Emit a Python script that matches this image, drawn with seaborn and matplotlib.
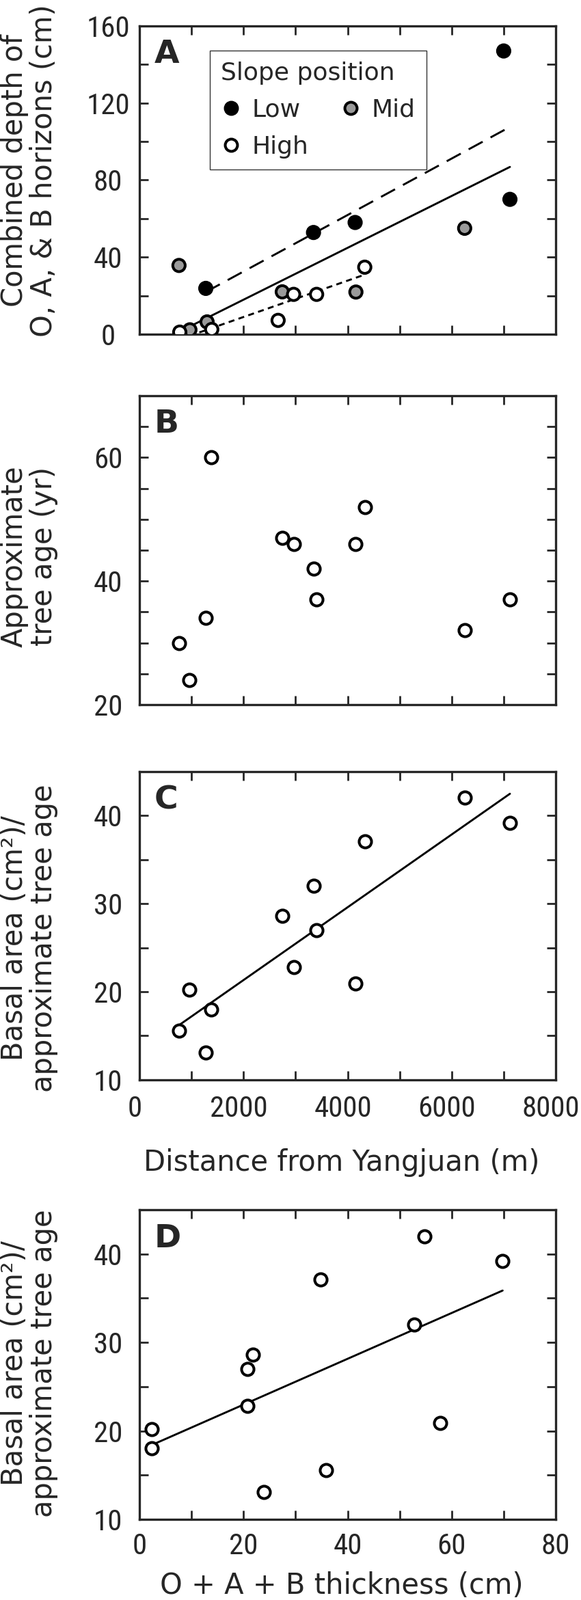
"""
Soil depth, tree age and growth along the Yangjuan gradient (4 stacked panels)
"""
import pandas as pd
import matplotlib
matplotlib.use("Agg")
import matplotlib.pyplot as plt
import seaborn as sns
from matplotlib import font_manager
from matplotlib.font_manager import FontProperties
from matplotlib.ticker import MultipleLocator
from matplotlib.transforms import ScaledTranslation
from matplotlib.lines import Line2D

# Panel A: combined O + A + B depth (cm) by slope position
low_dist = [1275, 3345, 4145, 7000, 7120]
low_depth = [23.8, 52.8, 58.0, 147.0, 70.0]
mid_dist = [760, 970, 1300, 2745, 4160, 6250]
mid_depth = [35.7, 2.3, 6.4, 22.0, 21.9, 55.0]
high_dist = [775, 1390, 2665, 2963, 3405, 4330]
high_depth = [1.1, 2.5, 7.2, 20.7, 20.7, 34.8]

# Panels B-D: one value per site
site_dist = [760, 960, 1275, 1375, 2740, 2963, 3345, 3405, 4145, 4330, 6250, 7120]
tree_age = [30, 24, 34, 60, 47, 46, 42, 37, 46, 52, 32, 37]
growth = [15.6, 20.2, 13.1, 18.0, 28.6, 22.8, 32.0, 27.0, 20.9, 37.1, 42.0, 39.2]
thickness = [35.8, 2.4, 23.9, 2.4, 21.8, 20.7, 52.8, 20.7, 57.8, 34.8, 54.8, 69.8]

slope_order = ["Low", "Mid", "High"]
slope_colors = {"Low": "black", "Mid": "#9a9a9a", "High": "white"}

sns.set_style("ticks")
plt.rcParams["font.family"] = ["DejaVu Sans"]


def pick_tick_font():
    """Find a condensed face for the tick numbers, like the original"""
    fonts = font_manager.fontManager.ttflist
    narrow = ("condensed", "semi-condensed", "extra-condensed")
    for name in ["Liberation Sans Narrow", "Roboto Condensed", "Open Sans Condensed"]:
        if any(f.name == name for f in fonts):
            return FontProperties(family=name), 31
    for name in ["DejaVu Sans", "Noto Sans", "Open Sans", "Roboto"]:
        if any(f.name == name and str(f.stretch) in narrow for f in fonts):
            return FontProperties(family=name, stretch="condensed"), 30
    return FontProperties(family="DejaVu Sans"), 26


TICK_FP, TICK_SIZE = pick_tick_font()
TICK_FP.set_size(TICK_SIZE)
LABEL_SIZE = 30
MARKER_S = 170
EDGE_W = 2.9


def style_axes(ax, xlim, ylim, xmaj, xmin, ymaj, ymin, xlabels=True, xpad=14):
    ax.set_xlim(*xlim)
    ax.set_ylim(*ylim)
    ax.xaxis.set_major_locator(MultipleLocator(xmaj))
    ax.xaxis.set_minor_locator(MultipleLocator(xmin))
    ax.yaxis.set_major_locator(MultipleLocator(ymaj))
    ax.yaxis.set_minor_locator(MultipleLocator(ymin))
    for side in ["top", "right", "bottom", "left"]:
        ax.spines[side].set_visible(True)
        ax.spines[side].set_linewidth(2.4)
    ax.tick_params(which="both", direction="in", top=True, right=True,
                   length=9.5, width=2.0)
    ax.tick_params(axis="y", pad=33)
    ax.tick_params(axis="x", pad=xpad, labelbottom=xlabels)
    for lab in ax.get_yticklabels() + ax.get_xticklabels():
        lab.set_fontproperties(TICK_FP)
    for lab in ax.get_yticklabels():
        lab.set_horizontalalignment("center")


def set_ylabel(ax, text, ycenter):
    ax.set_ylabel(text, fontsize=LABEL_SIZE, linespacing=1.05)
    ax.yaxis.set_label_coords(-0.195, ycenter)


def panel_letter(ax, letter):
    ax.text(0.036, 0.957, letter, transform=ax.transAxes, ha="left", va="top",
            fontsize=34, fontweight="bold")


def open_scatter(ax, x, y):
    sns.scatterplot(x=x, y=y, ax=ax, color="white", edgecolor="black",
                    linewidth=EDGE_W, s=MARKER_S, zorder=3, legend=False)


def fit_line(ax, x, y, ls="-"):
    sns.regplot(x=x, y=y, ax=ax, scatter=False, ci=None, truncate=True,
                line_kws=dict(color="black", lw=2.1, ls=ls, zorder=2))


def main():
    fig = plt.figure(figsize=(8.5, 23.41), dpi=100)
    ax_a = fig.add_axes([0.2400, 0.7911, 0.7165, 0.1927])
    ax_b = fig.add_axes([0.2400, 0.5596, 0.7165, 0.1931])
    ax_c = fig.add_axes([0.2400, 0.3251, 0.7165, 0.1927])
    ax_d = fig.add_axes([0.2400, 0.0504, 0.7165, 0.1935])

    # --- A ---
    df_a = pd.DataFrame({
        "dist": low_dist + mid_dist + high_dist,
        "depth": low_depth + mid_depth + high_depth,
        "slope": ["Low"] * len(low_dist) + ["Mid"] * len(mid_dist) + ["High"] * len(high_dist),
    })
    fit_line(ax_a, df_a["dist"], df_a["depth"])
    fit_line(ax_a, low_dist, low_depth, ls=(0, (8, 4.5)))
    fit_line(ax_a, high_dist, high_depth, ls=(0, (3, 2.2)))
    sns.scatterplot(data=df_a, x="dist", y="depth", hue="slope", hue_order=slope_order,
                    palette=slope_colors, edgecolor="black", linewidth=EDGE_W,
                    s=MARKER_S, zorder=3, legend=False, ax=ax_a)
    style_axes(ax_a, (0, 8000), (0, 160), 2000, 1000, 40, 20, xlabels=False)
    ax_a.set_xlabel("")
    set_ylabel(ax_a, "Combined depth of\nO, A, & B horizons (cm)", 0.53)
    panel_letter(ax_a, "A")

    handles = [Line2D([], [], ls="none", marker="o", markersize=12.9,
                      markerfacecolor=slope_colors[k], markeredgecolor="black",
                      markeredgewidth=EDGE_W) for k in ["Low", "High", "Mid"]]
    leg = ax_a.legend(handles, ["Low", "High", "Mid"], ncol=2, title="Slope position",
                      loc="upper left", bbox_to_anchor=(0.169, 0.921), borderaxespad=0,
                      fontsize=26, title_fontsize=26, frameon=True, fancybox=False,
                      handlelength=0.8, handletextpad=0.45, columnspacing=1.3,
                      labelspacing=0.55, borderpad=0.45)
    leg.get_frame().set_edgecolor("black")
    leg.get_frame().set_linewidth(1.0)
    leg._legend_box.align = "left"

    # --- B ---
    open_scatter(ax_b, site_dist, tree_age)
    style_axes(ax_b, (0, 8000), (20, 70), 2000, 1000, 20, 5, xlabels=False)
    set_ylabel(ax_b, "Approximate\ntree age (yr)", 0.48)
    panel_letter(ax_b, "B")

    # --- C ---
    fit_line(ax_c, site_dist, growth)
    open_scatter(ax_c, site_dist, growth)
    style_axes(ax_c, (0, 8000), (10, 45), 2000, 1000, 10, 5, xpad=16)
    # the original's distance labels sit a little left of their ticks
    shift = ScaledTranslation(-0.07, 0, fig.dpi_scale_trans)
    for lab in ax_c.get_xticklabels():
        lab.set_transform(lab.get_transform() + shift)
    ax_c.set_xlabel("Distance from Yangjuan (m)", fontsize=LABEL_SIZE)
    ax_c.xaxis.set_label_coords(0.485, -0.222)
    set_ylabel(ax_c, "Basal area (cm²)/\napproximate tree age", 0.46)
    panel_letter(ax_c, "C")

    # --- D ---
    fit_line(ax_d, thickness, growth)
    open_scatter(ax_d, thickness, growth)
    style_axes(ax_d, (0, 80), (10, 45), 20, 10, 10, 5)
    ax_d.set_xlabel("O + A + B thickness (cm)", fontsize=LABEL_SIZE)
    ax_d.xaxis.set_label_coords(0.485, -0.168)
    set_ylabel(ax_d, "Basal area (cm²)/\napproximate tree age", 0.505)
    panel_letter(ax_d, "D")

    fig.savefig("out.png", dpi=100)
    plt.close(fig)


if __name__ == "__main__":
    main()
